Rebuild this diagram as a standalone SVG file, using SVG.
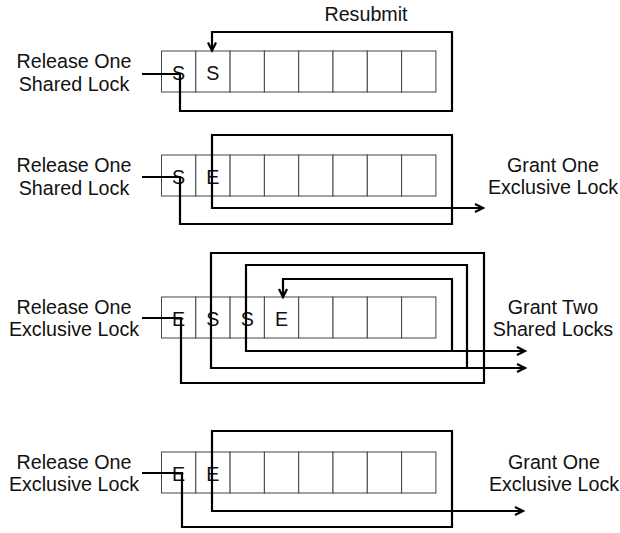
<svg xmlns="http://www.w3.org/2000/svg" width="620" height="533" viewBox="0 0 620 533">
<style>
  .lbl { font-family: "Liberation Sans", Arial, sans-serif; font-size: 19.7px; fill: #111; text-anchor: middle; }
  .cell { fill: #fff; stroke: #444; stroke-width: 1; }
  .cl { font-family: "Liberation Sans", Arial, sans-serif; font-size: 19.7px; fill: #111; text-anchor: middle; }
  .conn { fill: none; stroke: #000; stroke-width: 2.2; stroke-linejoin: miter; }
  .arr { marker-end: url(#ah); }
</style>
<defs>
  <marker id="ah" markerUnits="userSpaceOnUse" markerWidth="12" markerHeight="12" refX="9" refY="5" orient="auto" overflow="visible">
    <path d="M1,1 L9,5 L1,9" fill="none" stroke="#000" stroke-width="2.2"/>
  </marker>
  <g id="q">
    <rect class="cell" x="161.5" y="0" width="34.3" height="41"/>
    <rect class="cell" x="195.8" y="0" width="34.3" height="41"/>
    <rect class="cell" x="230.1" y="0" width="34.3" height="41"/>
    <rect class="cell" x="264.4" y="0" width="34.3" height="41"/>
    <rect class="cell" x="298.7" y="0" width="34.3" height="41"/>
    <rect class="cell" x="333.0" y="0" width="34.3" height="41"/>
    <rect class="cell" x="367.3" y="0" width="34.3" height="41"/>
    <rect class="cell" x="401.6" y="0" width="34.3" height="41"/>
  </g>
</defs>

<g id="queue1">
  <use href="#q" y="51"/>
  <text class="cl" x="178.6" y="80">S</text>
  <text class="cl" x="212.9" y="80">S</text>
</g>
<g id="queue2">
  <use href="#q" y="155"/>
  <text class="cl" x="178.6" y="184">S</text>
  <text class="cl" x="212.9" y="184">E</text>
</g>
<g id="queue3">
  <use href="#q" y="297"/>
  <text class="cl" x="178.6" y="326">E</text>
  <text class="cl" x="212.9" y="326">S</text>
  <text class="cl" x="247.2" y="326">S</text>
  <text class="cl" x="281.5" y="326">E</text>
</g>
<g id="queue4">
  <use href="#q" y="452"/>
  <text class="cl" x="178.6" y="481">E</text>
  <text class="cl" x="212.9" y="481">E</text>
</g>

<g id="label-resubmit">
  <text class="lbl" x="366" y="20.5">Resubmit</text>
</g>
<g id="label-release1">
  <text class="lbl" x="74" y="68.3">Release One</text>
  <text class="lbl" x="74" y="90.7">Shared Lock</text>
</g>
<g id="label-release2">
  <text class="lbl" x="74" y="172.3">Release One</text>
  <text class="lbl" x="74" y="194.7">Shared Lock</text>
</g>
<g id="label-grant2">
  <text class="lbl" x="553" y="172">Grant One</text>
  <text class="lbl" x="553" y="194.4">Exclusive Lock</text>
</g>
<g id="label-release3">
  <text class="lbl" x="74" y="313.5">Release One</text>
  <text class="lbl" x="74" y="336">Exclusive Lock</text>
</g>
<g id="label-grant3">
  <text class="lbl" x="553" y="313.5">Grant Two</text>
  <text class="lbl" x="553" y="336">Shared Locks</text>
</g>
<g id="label-release4">
  <text class="lbl" x="74" y="468.5">Release One</text>
  <text class="lbl" x="74" y="491">Exclusive Lock</text>
</g>
<g id="label-grant4">
  <text class="lbl" x="554" y="468.5">Grant One</text>
  <text class="lbl" x="554" y="491">Exclusive Lock</text>
</g>

<g id="connectors">
  <path class="conn arr" d="M142,74 H180 V111 H452 V32 H212 V50.5"/>
  <path class="conn arr" d="M142,177 H180 V224 H452 V135 H212 V208 H483"/>
  <path class="conn arr" d="M142,318 H181 V383 H484 V253 H211 V368 H525"/>
  <path class="conn arr" d="M467,368 V265 H246 V351 H525"/>
  <path class="conn arr" d="M452,351 V279 H283 V297"/>
  <path class="conn arr" d="M142,473 H182 V527 H452 V431 H212 V511 H523"/>
</g>
</svg>
